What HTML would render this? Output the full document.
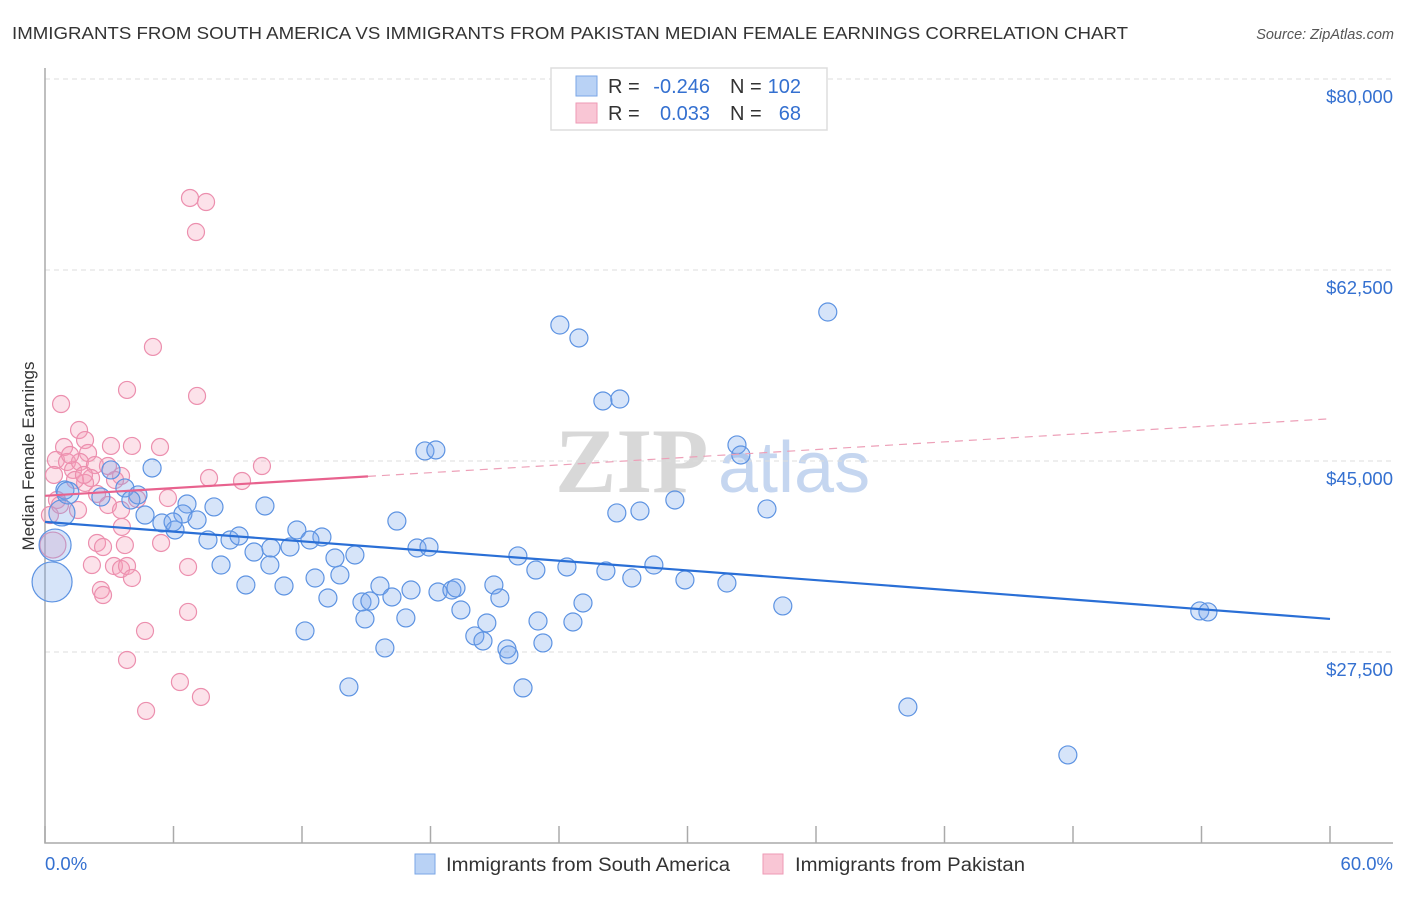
<!DOCTYPE html>
<html><head><meta charset="utf-8"><style>
body{margin:0;background:#fff;font-family:"Liberation Sans",sans-serif}
</style></head><body>
<svg id="c" width="1406" height="892" xmlns="http://www.w3.org/2000/svg" font-family="Liberation Sans, sans-serif">
<text x="12" y="39" font-size="17.5" fill="#333" textLength="1116" lengthAdjust="spacingAndGlyphs">IMMIGRANTS FROM SOUTH AMERICA VS IMMIGRANTS FROM PAKISTAN MEDIAN FEMALE EARNINGS CORRELATION CHART</text>
<text x="1394" y="39" font-size="14.5" fill="#555" font-style="italic" text-anchor="end">Source: ZipAtlas.com</text>
<text transform="translate(34,456) rotate(-90)" font-size="17" fill="#333" text-anchor="middle">Median Female Earnings</text>
<g>
<text x="555" y="492" font-size="92" fill="#d8d8d8" font-family="Liberation Serif, serif" font-weight="bold">ZIP</text>
<text x="718" y="492" font-size="72" fill="#c5d6f0">atlas</text>
</g>
<g id="grid"></g>
<g id="axes"></g>
<g id="marks"></g>
<g font-size="20">
<rect x="551" y="68" width="276" height="62" fill="#fff" stroke="#ddd" stroke-width="1.5"/>
<rect x="576" y="76" width="21" height="20" fill="#b9d2f5" stroke="#7aa6e6"/>
<rect x="576" y="103" width="21" height="20" fill="#f9c6d5" stroke="#ee9ab5"/>
<text x="608" y="93" fill="#333">R =</text>
<text x="710" y="93" fill="#3470d0" text-anchor="end">-0.246</text>
<text x="730" y="93" fill="#333">N =</text>
<text x="801" y="93" fill="#3470d0" text-anchor="end">102</text>
<text x="608" y="120" fill="#333">R =</text>
<text x="710" y="120" fill="#3470d0" text-anchor="end">0.033</text>
<text x="730" y="120" fill="#333">N =</text>
<text x="801" y="120" fill="#3470d0" text-anchor="end">68</text>
</g>
<g>
<rect x="415" y="854" width="20" height="20" fill="#b9d2f5" stroke="#7aa6e6"/>
<text x="446" y="871" font-size="19" fill="#333" textLength="284" lengthAdjust="spacingAndGlyphs">Immigrants from South America</text>
<rect x="763" y="854" width="20" height="20" fill="#f9c6d5" stroke="#ee9ab5"/>
<text x="795" y="871" font-size="19" fill="#333" textLength="230" lengthAdjust="spacingAndGlyphs">Immigrants from Pakistan</text>
</g>
</svg>
<script>
const yTicks=[27500,45000,62500,80000];
const yTickLabels=["$27,500","$45,000","$62,500","$80,000"];
const xTickLabels=["0.0%","60.0%"];
const blueX=[24.04,24.93,36.55,26.05,26.84,17.74,18.25,32.31,32.49,5.00,3.08,0.93,3.73,4.34,2.61,4.01,6.63,7.89,10.27,6.44,7.10,4.67,5.46,6.07,5.98,16.43,26.70,27.78,29.41,33.71,7.61,8.64,9.06,9.76,10.55,11.44,11.76,12.93,12.37,14.47,13.54,17.37,17.93,22.08,22.92,24.37,26.19,27.40,28.43,29.88,31.84,8.22,10.50,9.38,11.16,12.61,13.77,15.64,17.09,18.35,19.00,19.19,20.96,21.24,13.21,14.80,15.17,16.20,19.42,25.12,34.45,53.92,54.30,14.94,16.85,20.63,23.02,24.65,12.14,20.07,20.45,23.25,15.87,21.57,21.66,14.19,22.32,40.29,47.76,0.47,0.33,0.79,1.07];
const blueY=[57.46,56.27,58.65,50.50,50.68,45.92,46.01,46.47,45.55,44.36,44.18,42.34,42.53,41.89,41.70,41.43,41.06,40.79,40.88,40.15,39.60,40.05,39.32,38.68,39.41,39.50,40.24,40.42,41.43,40.61,37.76,37.76,38.13,36.66,37.03,37.12,38.68,38.04,37.76,36.39,36.11,37.03,37.12,36.30,35.01,35.29,34.92,34.28,35.47,34.10,33.82,35.47,35.47,33.64,33.55,34.28,34.56,33.55,33.18,33.00,33.18,33.37,33.64,32.45,32.45,32.08,32.17,32.54,31.35,31.99,31.72,31.26,31.17,30.53,30.62,30.16,30.34,30.25,29.43,28.97,28.51,28.33,27.87,27.78,27.23,24.30,24.21,22.46,18.07,37.30,33.92,40.24,42.07];
const blueR=[9,9,9,9,9,9,9,9,9,9,9,9,9,9,9,9,9,9,9,9,9,9,9,9,9,9,9,9,9,9,9,9,9,9,9,9,9,9,9,9,9,9,9,9,9,9,9,9,9,9,9,9,9,9,9,9,9,9,9,9,9,9,9,9,9,9,9,9,9,9,9,9,9,9,9,9,9,9,9,9,9,9,9,9,9,9,9,9,9,16,20,13,11];
const pinkX=[6.77,7.52,7.05,5.04,3.83,7.10,0.75,1.59,0.89,1.87,2.01,3.08,4.06,5.37,0.51,1.03,1.31,1.63,2.33,2.94,3.55,2.15,0.42,1.87,2.43,2.94,4.30,5.74,7.66,9.20,10.13,0.56,0.23,1.54,3.55,3.59,2.43,2.71,3.73,5.42,2.19,3.22,3.55,3.83,6.68,4.06,2.61,2.71,6.68,4.67,3.83,6.30,7.28,4.72,0.37,0.70,1.17,1.40,3.27,1.82];
const pinkY=[69.10,68.73,65.98,55.45,51.51,50.96,50.22,47.84,46.28,46.92,45.73,46.38,46.38,46.28,45.09,44.91,44.18,44.91,44.63,44.54,43.63,43.44,43.72,42.99,41.98,40.97,41.52,41.61,43.44,43.17,44.54,41.43,40.05,40.51,40.51,38.96,37.49,37.12,37.30,37.49,35.47,35.38,35.11,35.38,35.29,34.28,33.18,32.72,31.17,29.43,26.77,24.75,23.38,22.10,37.30,40.97,45.55,43.26,43.26,43.72];
const blueTrend=[[0,39.42],[60,30.53]];
const pinkTrendSolid=[[0,41.81],[15.08,43.59]];
const pinkTrendDash=[[15.08,43.59],[60,48.87]];
const NS="http://www.w3.org/2000/svg";
const X=v=>45+v*1285/60;
const Y=k=>79+(80-k)*191/17.5;
function mk(t,a,p){const e=document.createElementNS(NS,t);for(const k in a)e.setAttribute(k,a[k]);p.appendChild(e);return e;}
const grid=document.getElementById('grid'),axes=document.getElementById('axes'),marks=document.getElementById('marks');
yTicks.forEach((t,i)=>{
 const g=mk('line',{x1:45,x2:1393,y1:Y(t/1000),y2:Y(t/1000),stroke:'#ddd','stroke-dasharray':'5,4'},grid);
 
 
 const l=mk('text',{x:1393,y:Y(t/1000)+24,'font-size':18.5,fill:'#3470d0','text-anchor':'end'},axes);
 l.textContent=yTickLabels[i];
 
 
});
const ax=mk('path',{d:'M45,68V843H1393',stroke:'#aaa',fill:'none','stroke-width':1.5},axes);


for(let i=0;i<=10;i++){const t=mk('line',{x1:X(i*6),x2:X(i*6),y1:826,y2:843,stroke:'#aaa','stroke-width':1.5},axes);
 
 }
[[0,'start',45],[1,'end',1393]].forEach(([i,a,x])=>{const t=mk('text',{x:x,y:870,'font-size':18.5,fill:'#3470d0','text-anchor':a},axes);t.textContent=xTickLabels[i];
 
 });
pinkX.forEach((v,i)=>{const c=mk('circle',{cx:X(v),cy:Y(pinkY[i]),r:i==54?13:8.5,fill:'rgba(244,160,185,0.3)',stroke:'#ec8fae','stroke-width':1.2},marks);
 
 });
blueX.forEach((v,i)=>{const c=mk('circle',{cx:X(v),cy:Y(blueY[i]),r:blueR[i],fill:'rgba(120,165,235,0.3)',stroke:'#5d93e2','stroke-width':1.2},marks);
 
 });
const bl=mk('line',{x1:X(blueTrend[0][0]),y1:Y(blueTrend[0][1]),x2:X(blueTrend[1][0]),y2:Y(blueTrend[1][1]),stroke:'#2a6fd6','stroke-width':2.2},marks);


const pl=mk('line',{x1:X(pinkTrendSolid[0][0]),y1:Y(pinkTrendSolid[0][1]),x2:X(pinkTrendSolid[1][0]),y2:Y(pinkTrendSolid[1][1]),stroke:'#e8628e','stroke-width':2.2},marks);


const pd=mk('line',{x1:X(pinkTrendDash[0][0]),y1:Y(pinkTrendDash[0][1]),x2:X(pinkTrendDash[1][0]),y2:Y(pinkTrendDash[1][1]),stroke:'#eda0b8','stroke-width':1.2,'stroke-dasharray':'8,6'},marks);


</script>
</body></html>
